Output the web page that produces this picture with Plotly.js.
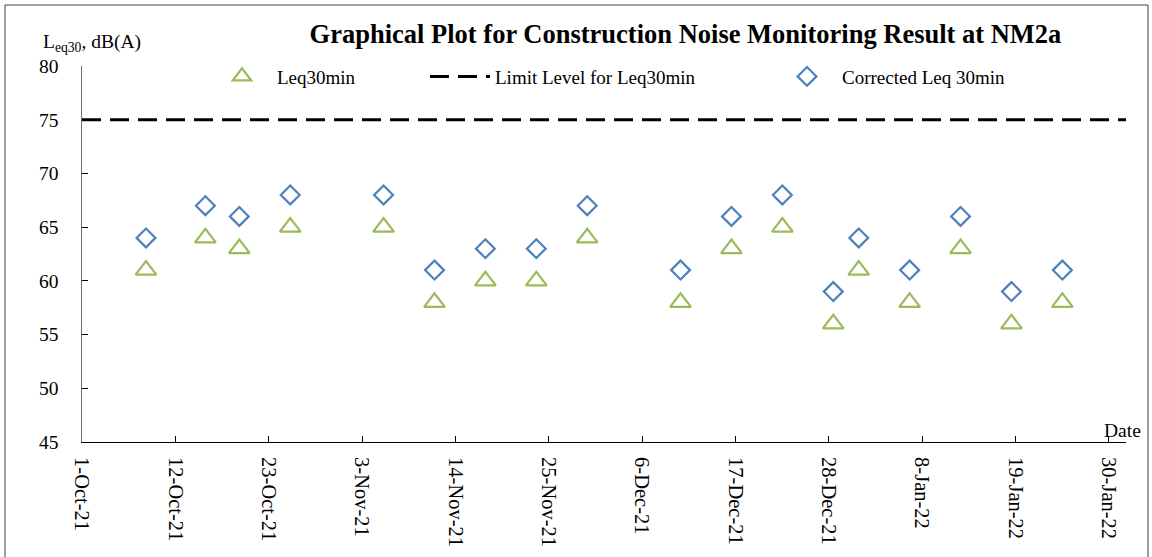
<!DOCTYPE html>
<html>
<head>
<meta charset="utf-8">
<script src="https://cdn.plot.ly/plotly-3.0.1.min.js"></script>
<style>html,body{margin:0;padding:0;background:#fff;}#chart{width:1152px;height:557px;}</style>
</head>
<body>
<div id="chart"></div>
<script>
// Monitoring dates (date and approximate time)
const dates = [
  "2021-10-08 13:00", "2021-10-15 13:00", "2021-10-19 13:00", "2021-10-25 13:00",
  "2021-11-05 13:00", "2021-11-11 13:00", "2021-11-17 13:00", "2021-11-23 13:00",
  "2021-11-29 13:00", "2021-12-10 13:00", "2021-12-16 13:00", "2021-12-22 13:00",
  "2021-12-28 13:00", "2021-12-31 13:00", "2022-01-06 13:00", "2022-01-12 13:00",
  "2022-01-18 13:00", "2022-01-24 13:00"
];
const leq30 = [61, 64, 63, 65, 65, 58, 60, 60, 64, 58, 63, 65, 56, 61, 58, 63, 56, 58];
const correctedLeq30 = [64, 67, 66, 68, 68, 61, 63, 63, 67, 61, 66, 68, 59, 64, 61, 66, 59, 61];
const limitLevel = 75;
const xStart = "2021-10-01";
const xEnd = "2022-02-01 01:00";
const yTicks = [45, 50, 55, 60, 65, 70, 75, 80];

const FONT = "Liberation Serif, Times New Roman, serif";

const traces = [
  {
    x: dates, y: leq30, name: "Leq30min", type: "scatter", mode: "markers",
    marker: {symbol: "triangle-up-open", size: 18, color: "#9BBB59", line: {width: 2.2, color: "#9BBB59"}},
    legend: "legend"
  },
  {
    x: [xStart, xEnd], y: [limitLevel, limitLevel], name: "Limit Level for Leq30min",
    type: "scatter", mode: "lines",
    line: {color: "#000000", width: 3, dash: "19px,9px"},
    legend: "legend2"
  },
  {
    x: dates, y: correctedLeq30, name: "Corrected Leq 30min", type: "scatter", mode: "markers",
    marker: {symbol: "diamond-open", size: 14.5, color: "#4F81BD", line: {width: 2.2, color: "#4F81BD"}},
    legend: "legend3"
  }
];

const legendBase = {
  orientation: "h", yanchor: "middle", xanchor: "left", y: 0.972,
  bgcolor: "rgba(0,0,0,0)", borderwidth: 0, itemwidth: 60,
  font: {family: FONT, size: 19, color: "#000"}
};

const layout = {
  width: 1152, height: 557,
  margin: {l: 82, r: 26, t: 66, b: 115},
  paper_bgcolor: "#fff", plot_bgcolor: "#fff",
  font: {family: FONT, size: 19, color: "#000"},
  title: {
    text: "<b>Graphical Plot for Construction Noise Monitoring Result at NM2a</b>",
    font: {family: FONT, size: 26.5, color: "#000"},
    x: 685.5 / 1152, xanchor: "center", y: 1 - 34 / 557, yanchor: "middle"
  },
  xaxis: {
    type: "date", range: [xStart, xEnd],
    tick0: xStart, dtick: 11 * 86400000, tickformat: "%-d-%b-%y",
    tickangle: 90, ticks: "inside", ticklen: 6, tickcolor: "#000",
    showline: true, linecolor: "#000", linewidth: 1, showgrid: false, zeroline: false,
    ticklabelstandoff: 10,
    tickfont: {family: FONT, size: 20.5, color: "#000"}
  },
  yaxis: {
    range: [45, 80], tickvals: yTicks, ticks: "inside", ticklen: 6, tickcolor: "#000",
    showline: true, linecolor: "#707070", linewidth: 1.5, showgrid: false, zeroline: false,
    ticklabelstandoff: 18,
    tickfont: {family: FONT, size: 19.5, color: "#000"}
  },
  showlegend: true,
  legend: Object.assign({}, legendBase, {x: (207 - 82) / 1044}),
  legend2: Object.assign({}, legendBase, {x: (425 - 82) / 1044}),
  legend3: Object.assign({}, legendBase, {x: (772 - 82) / 1044}),
  annotations: [
    {text: "L<sub>eq30</sub>, dB(A)", xref: "paper", yref: "paper",
     x: (41 - 82) / 1044, y: (442 - 43) / 376, xanchor: "left", yanchor: "middle",
     showarrow: false, font: {family: FONT, size: 19.5, color: "#000"}},
    {text: "Date", xref: "paper", yref: "paper",
     x: (1102 - 82) / 1044, y: (442 - 430) / 376, xanchor: "left", yanchor: "middle",
     showarrow: false, font: {family: FONT, size: 19.5, color: "#000"}}
  ],
  shapes: [
    {type: "rect", xref: "paper", yref: "paper",
     x0: (5 - 82) / 1044, x1: (1148 - 82) / 1044, y0: (442 - 570) / 376, y1: (442 - 5) / 376,
     line: {color: "#404040", width: 1}, fillcolor: "rgba(0,0,0,0)", layer: "below"}
  ]
};

Plotly.newPlot("chart", traces, layout, {displayModeBar: false, staticPlot: true});
</script>
</body>
</html>
